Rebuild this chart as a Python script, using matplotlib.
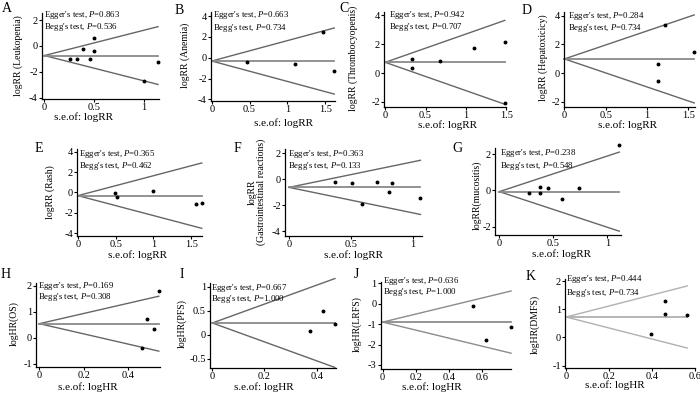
import matplotlib
matplotlib.use("Agg")
import matplotlib.pyplot as plt
from matplotlib.ticker import FuncFormatter

plt.rcParams["font.family"] = ["Liberation Serif", "DejaVu Serif"]
plt.rcParams["mathtext.fontset"] = "custom"
plt.rcParams["mathtext.rm"] = "Liberation Serif"
plt.rcParams["mathtext.it"] = "Liberation Serif:italic"
plt.rcParams["axes.unicode_minus"] = False

# standard errors / log effect sizes per panel
A_SE = [0.26, 0.33, 0.39, 0.46, 0.50, 0.50, 1.00, 1.14]
A_LOG = [-0.97, -1.0, -0.22, -0.97, 0.58, -0.35, -2.7, -1.23]
A_POOLED = -0.74

B_SE = [0.46, 1.10, 1.47, 1.62]
B_LOG = [-0.44, -0.63, 2.5, -1.27]
B_POOLED = -0.31

C_SE = [0.33, 0.33, 0.68, 1.10, 1.48, 1.48]
C_LOG = [0.97, 0.37, 0.83, 1.76, 2.12, -2.1]
C_POOLED = 0.74

D_SE = [1.13, 1.13, 1.22, 1.57]
D_LOG = [0.62, -0.55, 3.37, 1.5]
D_POOLED = 0.99

E_SE = [0.49, 0.52, 1.0, 1.56, 1.64]
E_LOG = [-0.09, -0.42, 0.17, -1.14, -1.08]
E_POOLED = -0.32

F_SE = [0.37, 0.51, 0.59, 0.71, 0.83, 0.81, 1.06]
F_LOG = [-0.23, -0.31, -1.89, -0.23, -0.31, -0.95, -1.46]
F_POOLED = -0.62

G_SE = [0.275, 0.375, 0.375, 0.455, 0.58, 0.74, 1.11]
G_LOG = [-0.16, 0.21, -0.16, 0.13, -0.47, 0.15, 2.5]
G_POOLED = -0.07

H_SE = [0.463, 0.485, 0.517, 0.537]
H_LOG = [-0.38, 0.73, 0.35, 1.79]
H_POOLED = 0.54

I_SE = [0.375, 0.425, 0.47]
I_LOG = [0.08, 0.49, 0.23]
I_POOLED = 0.245

J_SE = [0.55, 0.626, 0.778]
J_LOG = [-0.11, -1.8, -1.14]
J_POOLED = -0.9

K_SE = [0.395, 0.46, 0.46, 0.564]
K_LOG = [0.135, 1.3, 0.85, 0.81]
K_POOLED = 0.73

PANEL_IDS = list("ABCDEFGHIJK")
EGGER_P = ["0.863", "0.663", "0.942", "0.284", "0.365", "0.363", "0.238",
           "0.169", "0.667", "0.636", "0.444"]
BEGG_P = ["0.536", "0.734", "0.707", "0.734", "0.462", "0.133", "0.548",
          "0.308", "1.000", "1.000", "0.734"]
Y_LABELS = ["logRR (Leukopenia)", "logRR (Anemia)", "logRR (Thrombocyopenis)",
            "logRR (Hepatoxicicy)", "logRR (Rash)",
            "logRR\n(Gastrointestinal reactions)", "logRR(mucositis)",
            "logHR(OS)", "logHR(PFS)", "logHR(LRFS)", "logHR(DMFS)"]
X_LABELS = ["s.e.of: logRR"] * 7 + ["s.e.of: logHR"] * 4
X_TICKS = [[0, 0.5, 1], [0, 0.5, 1, 1.5], [0, 0.5, 1, 1.5], [0, 0.5, 1, 1.5],
           [0, 0.5, 1, 1.5], [0, 0.5, 1], [0, 0.5, 1],
           [0, 0.2, 0.4], [0, 0.2, 0.4], [0, 0.2, 0.4, 0.6], [0, 0.2, 0.4, 0.6]]
Y_TICKS = [[-4, -2, 0, 2], [-4, -2, 0, 2, 4], [-2, 0, 2, 4], [-2, 0, 2, 4],
           [-4, -2, 0, 2, 4], [-4, -2, 0, 2], [-2, 0, 2],
           [-1, 0, 1, 2], [-0.5, 0, 0.5, 1], [-3, -2, -1, 0, 1], [-1, 0, 1, 2]]

SE = [A_SE, B_SE, C_SE, D_SE, E_SE, F_SE, G_SE, H_SE, I_SE, J_SE, K_SE]
LOG = [A_LOG, B_LOG, C_LOG, D_LOG, E_LOG, F_LOG, G_LOG, H_LOG, I_LOG, J_LOG, K_LOG]
POOLED = [A_POOLED, B_POOLED, C_POOLED, D_POOLED, E_POOLED, F_POOLED, G_POOLED,
          H_POOLED, I_POOLED, J_POOLED, K_POOLED]

# layout, in pixels of the 700x395 canvas
W, H = 700, 395
RECTS = [(42, 13, 159, 99), (211, 12, 335, 101), (384, 11.6, 506.4, 106.7),
         (564, 11.6, 695, 106.7), (77.3, 149.4, 202.5, 236.1),
         (285, 149.3, 422.3, 236), (495, 148.2, 621.4, 234.9),
         (36, 282.7, 159.5, 367), (210, 282.7, 336.2, 368.1),
         (380.7, 281.5, 511.4, 368.8), (565, 278.8, 695, 368.1)]
XLIMS = [(-0.024, 1.15), (-0.01, 1.63), (-0.015, 1.49), (-0.006, 1.58),
         (-0.008, 1.65), (-0.032, 1.075), (-0.04, 1.13), (-0.015, 0.54),
         (-0.009, 0.475), (-0.012, 0.78), (-0.005, 0.60)]
YLIMS = [(-4.1, 2.55), (-4.15, 4.4), (-2.33, 4.25), (-2.35, 4.3), (-4.3, 4.23),
         (-4.35, 2.3), (-2.45, 2.32), (-1.12, 2.11), (-0.69, 1.08),
         (-3.19, 1.09), (-1.09, 2.09)]
LETTER_POS = [(7, 9), (179, 10), (344, 8), (527, 10), (39, 148), (237, 148),
              (457, 148), (6, 275), (182, 275), (356, 274), (531, 277)]
TEST_POS = [(44.3, 15, 27.3), (213.3, 15, 28.3), (389, 15, 26.7), (567.7, 16, 28.3),
            (79, 154, 165.7), (288.3, 154, 165.7), (500, 153.3, 165.7),
            (37.7, 286, 297), (211, 287.7, 298.7), (383.3, 281, 292), (566, 279, 293)]
YLABEL_POS = [(18, 56), (185, 55), (353, 58), (543, 58), (50, 192), (257, 192),
              (477, 195), (14, 324), (182, 324), (357, 324), (535, 324)]
XLABEL_POS = [(83, 117), (284, 123), (447, 125), (627, 125), (137, 255), (354, 255),
              (561, 254), (88, 387), (264, 387), (432, 387), (615, 385)]
LINE_COLORS = ["#666666"] * 9 + ["#8c8c8c", "#b0b0b0"]


def fx(x):
    return x / W


def fy(y):
    return 1 - y / H


fig = plt.figure(figsize=(7, 3.95), dpi=100)
fmt = FuncFormatter(lambda v, pos: f"{v:g}")

for i, pid in enumerate(PANEL_IDS):
    l, t, r, b = RECTS[i]
    ax = fig.add_axes([fx(l), fy(b), (r - l) / W, (b - t) / H])
    se_max = max(SE[i])
    pooled = POOLED[i]
    col = LINE_COLORS[i]
    ax.plot([0, se_max], [pooled, pooled + 1.96 * se_max], color=col, lw=1.0, clip_on=False)
    ax.plot([0, se_max], [pooled, pooled - 1.96 * se_max], color=col, lw=1.0, clip_on=False)
    ax.plot([0, se_max], [pooled, pooled], color=col if i >= 9 else "#8a8a8a", lw=1.3,
            clip_on=False)
    ax.plot(SE[i], LOG[i], "o", color="black", ms=1.8, clip_on=False)

    ax.set_xlim(*XLIMS[i])
    ax.set_ylim(*YLIMS[i])
    ax.set_xticks(X_TICKS[i])
    ax.set_yticks(Y_TICKS[i])
    ax.xaxis.set_major_formatter(fmt)
    ax.yaxis.set_major_formatter(fmt)
    ax.tick_params(direction="out", length=2, width=0.8, pad=1, labelsize=7.5)
    for side in ["top", "right"]:
        ax.spines[side].set_visible(False)
    for side in ["left", "bottom"]:
        ax.spines[side].set_linewidth(0.9)

    tx, ty1, ty2 = TEST_POS[i]
    fig.text(fx(tx), fy(ty1), f"Egger's test, $P$={EGGER_P[i]}", fontsize=6.3, va="center")
    fig.text(fx(tx), fy(ty2), f"Begg's test, $P$={BEGG_P[i]}", fontsize=6.3, va="center")

    lx, ly = LETTER_POS[i]
    fig.text(fx(lx), fy(ly), pid, fontsize=10, ha="center", va="center")
    yx, yy = YLABEL_POS[i]
    fig.text(fx(yx), fy(yy), Y_LABELS[i], fontsize=7, rotation=90,
             ha="center", va="center", multialignment="center", linespacing=0.95)
    xx, xy = XLABEL_POS[i]
    fig.text(fx(xx), fy(xy), X_LABELS[i], fontsize=8, ha="center", va="center")

fig.savefig("out.png", dpi=100)
